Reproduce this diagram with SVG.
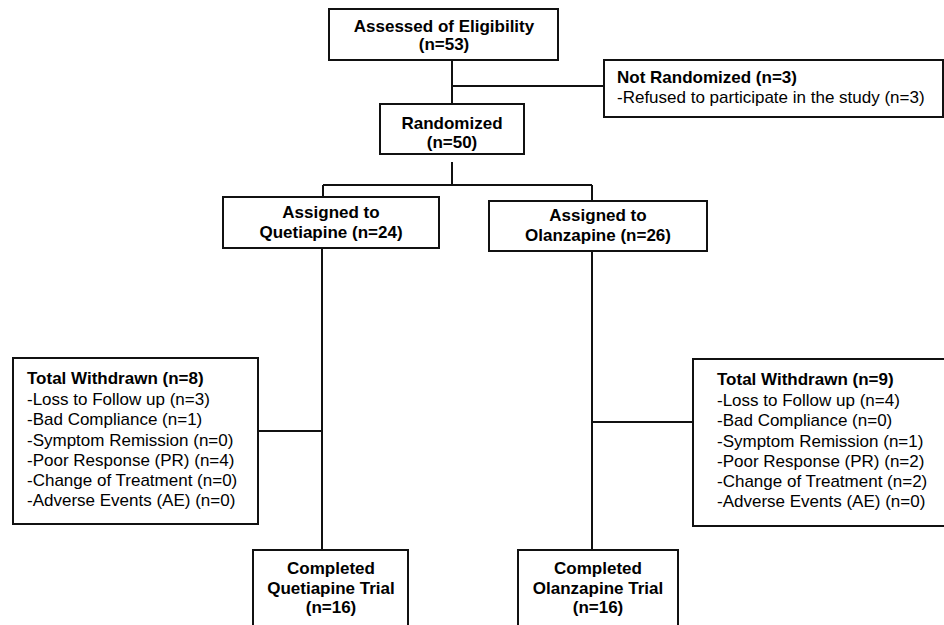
<svg xmlns="http://www.w3.org/2000/svg" width="944" height="625" viewBox="0 0 944 625">
<style>
.box{fill:#fff;stroke:#111;stroke-width:2}
.ln{stroke:#111;stroke-width:2;fill:none}
text{font-family:"Liberation Sans",Arial,sans-serif;fill:#000}
.b{font-weight:bold;font-size:17px;text-anchor:middle}
.bl{font-weight:bold;font-size:17px}
.n{font-size:17px}
</style>
<rect width="944" height="625" fill="#fff"/>
<g id="connectors">
<path class="ln" d="M452 60V104M452 86H604"/>
<path class="ln" d="M452 162V185M323 185H592M323 185V197M592 185V201"/>
<path class="ln" d="M322 248V550M258 431H322"/>
<path class="ln" d="M592 251V550M592 422H693"/>
</g>
<g id="assessed">
<rect class="box" x="329" y="9" width="229" height="51"/>
<text class="b" x="444" y="32">Assessed of Eligibility</text>
<text class="b" x="444" y="50">(n=53)</text>
</g>
<g id="not-randomized">
<rect class="box" x="604" y="60" width="339" height="57"/>
<text class="bl" x="617" y="83">Not Randomized (n=3)</text>
<text class="n" x="617" y="103">-Refused to participate in the study (n=3)</text>
</g>
<g id="randomized">
<rect class="box" x="380" y="104" width="144" height="50"/>
<text class="b" x="452" y="129">Randomized</text>
<text class="b" x="452" y="148">(n=50)</text>
</g>
<g id="quetiapine">
<rect class="box" x="223" y="197" width="216" height="51"/>
<text class="b" x="331" y="218">Assigned to</text>
<text class="b" x="331" y="238">Quetiapine (n=24)</text>
</g>
<g id="olanzapine">
<rect class="box" x="489" y="201" width="218" height="50"/>
<text class="b" x="598" y="221">Assigned to</text>
<text class="b" x="598" y="241">Olanzapine (n=26)</text>
</g>
<g id="withdrawn-quetiapine">
<rect class="box" x="13" y="358" width="245" height="166"/>
<text class="bl" x="27" y="384">Total Withdrawn (n=8)</text>
<text class="n" x="27" y="405">-Loss to Follow up (n=3)</text>
<text class="n" x="27" y="425">-Bad Compliance (n=1)</text>
<text class="n" x="27" y="446">-Symptom Remission (n=0)</text>
<text class="n" x="27" y="466">-Poor Response (PR) (n=4)</text>
<text class="n" x="27" y="486">-Change of Treatment (n=0)</text>
<text class="n" x="27" y="506">-Adverse Events (AE) (n=0)</text>
</g>
<g id="withdrawn-olanzapine">
<rect class="box" x="693" y="359" width="253" height="167"/>
<text class="bl" x="717" y="385">Total Withdrawn (n=9)</text>
<text class="n" x="717" y="406">-Loss to Follow up (n=4)</text>
<text class="n" x="717" y="426">-Bad Compliance (n=0)</text>
<text class="n" x="717" y="447">-Symptom Remission (n=1)</text>
<text class="n" x="717" y="467">-Poor Response (PR) (n=2)</text>
<text class="n" x="717" y="487">-Change of Treatment (n=2)</text>
<text class="n" x="717" y="507">-Adverse Events (AE) (n=0)</text>
</g>
<g id="completed-quetiapine">
<rect class="box" x="253" y="550" width="155" height="90"/>
<text class="b" x="331" y="574">Completed</text>
<text class="b" x="331" y="594">Quetiapine Trial</text>
<text class="b" x="331" y="613">(n=16)</text>
</g>
<g id="completed-olanzapine">
<rect class="box" x="518" y="550" width="160" height="90"/>
<text class="b" x="598" y="574">Completed</text>
<text class="b" x="598" y="594">Olanzapine Trial</text>
<text class="b" x="598" y="613">(n=16)</text>
</g>
</svg>
